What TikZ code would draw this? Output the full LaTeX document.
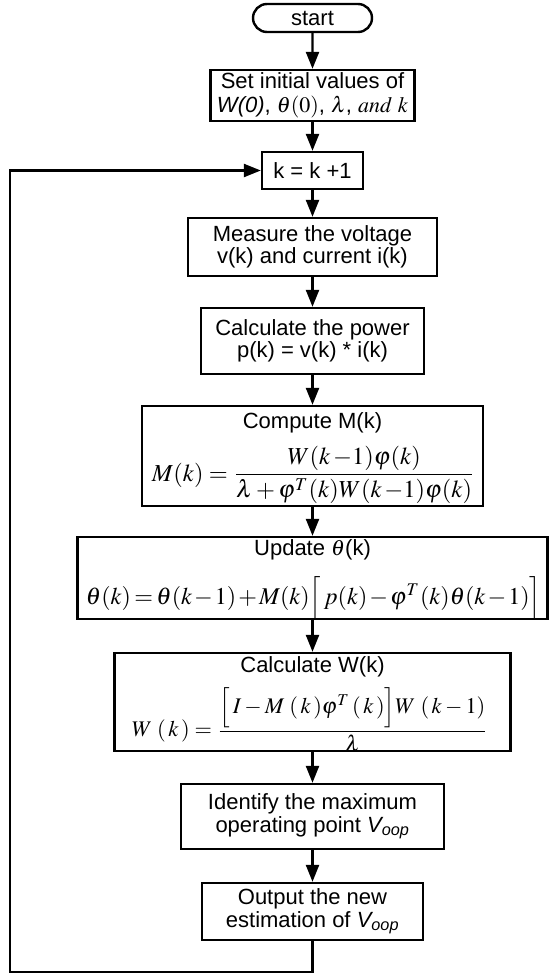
\documentclass[tikz,border=0pt]{standalone}
\usepackage{graphicx}
\usepackage{mathptmx}
\usepackage[no-math]{fontspec}
\setmainfont{Liberation Sans}
\usetikzlibrary{arrows.meta,shapes.misc}
\begin{document}
\begin{tikzpicture}[x=1pt,y=-1pt,
  box/.style={draw, line width=2.4pt, rectangle, inner sep=0pt, align=center, font=\fontsize{22}{22.5}\selectfont},
  startbox/.style={draw, line width=2.4pt, rounded rectangle, inner sep=0pt, font=\fontsize{22}{22.5}\selectfont},
  boxtitle/.style={anchor=base, inner sep=0pt, font=\fontsize{22}{22.5}\selectfont},
  formula/.style={anchor=center, inner sep=0pt},
  flow/.style={line width=2.4pt, -{Triangle[length=17pt,width=13pt]}},
  loopline/.style={line width=2.4pt}]
\useasboundingbox (0,0) rectangle (549,977);

\node[startbox, minimum width=119pt, minimum height=28pt] (start) at (312.5,18) {start};
\node[box, minimum width=204pt, minimum height=51pt] (init) at (312.5,95.5)
  {Set initial values of\\[2pt] \textit{W(0)}, $\theta(0)$, $\lambda$, $\mathit{and}\ k$};
\node[box, minimum width=101pt, minimum height=37pt] (kbox) at (312.5,170.5) {k = k +1};
\node[box, minimum width=249pt, minimum height=58pt] (meas) at (312.5,247)
  {Measure the voltage\\ v(k) and current i(k)};
\node[box, minimum width=223pt, minimum height=66pt] (pow) at (312.5,341)
  {Calculate the power\\ p(k) = v(k) * i(k)};

% Compute M(k)
\node[box, minimum width=341pt, minimum height=100pt] (mk) at (312.5,456) {};
\node[boxtitle] (mkt) at (312.5,428) {Compute M(k)};
\node[formula] (mkf) at (313.5,475)
  {\resizebox{323pt}{!}{$\displaystyle M(k)=\frac{W(k\,{-}1)\varphi(k)}{\lambda+\varphi^{T}(k)W(k\,{-}1)\varphi(k)}$}};

% Update theta
\node[box, minimum width=470pt, minimum height=82pt] (th) at (312.5,578) {};
\node[boxtitle] (tht) at (312.5,555) {Update $\theta$(k)};
\node[formula] (thf) at (313.5,598.5)
  {\resizebox{455pt}{!}{\medmuskip=1.5mu\thickmuskip=2.5mu$\theta(k)=\theta(k-1)+M(k)\Big[\,p(k)-\varphi^{T}(k)\theta(k-1)\Big]$}};

% Calculate W(k)
\node[box, minimum width=396pt, minimum height=98pt] (wk) at (312.5,702) {};
\node[boxtitle] (wkt) at (312.5,672) {Calculate W(k)};
\node[formula] (wkf) at (310,720)
  {\resizebox{356pt}{!}{$\displaystyle W\;(\,k\,)=\frac{\Big[\,I-M\;(\,k\,)\varphi^{T}\,(\,k\,)\Big]W\;(\,k-1)}{\lambda}$}};

\node[box, minimum width=263pt, minimum height=65pt] (ident) at (312.5,816.5)
  {Identify the maximum\\ operating point \textit{V\textsubscript{oop}}};
\node[box, minimum width=221pt, minimum height=57pt] (out) at (312.5,911.5)
  {Output the new\\ estimation of \textit{V\textsubscript{oop}}};

\coordinate (c1) at (10,972);

\draw[flow] (start) -- (init);
\draw[flow] (init) -- (kbox);
\draw[flow] (kbox) -- (meas);
\draw[flow] (meas) -- (pow);
\draw[flow] (pow) -- (mk);
\draw[flow] (mk) -- (th);
\draw[flow] (th) -- (wk);
\draw[flow] (wk) -- (ident);
\draw[flow] (ident) -- (out);
\draw[flow] (out.south) |- (c1) |- (kbox.west);
\end{tikzpicture}
\end{document}
